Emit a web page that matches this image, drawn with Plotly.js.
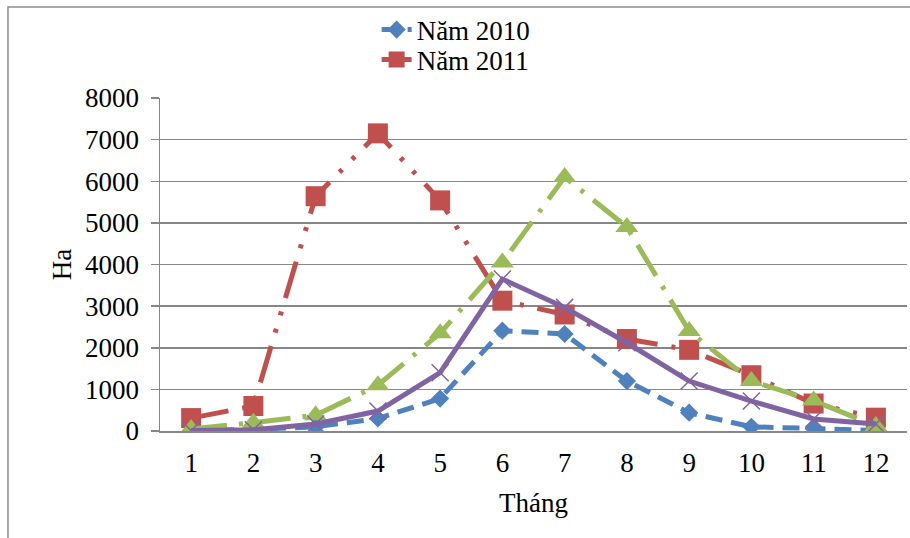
<!DOCTYPE html>
<html>
<head>
<meta charset="utf-8">
<script src="https://cdn.plot.ly/plotly-3.0.1.min.js"></script>
<style>html,body{margin:0;padding:0;background:#fff;}#chart{width:910px;height:538px;}</style>
</head>
<body>
<div id="chart"></div>
<script>
const months = ['1','2','3','4','5','6','7','8','9','10','11','12'];
const seriesNames = ['Năm 2010', 'Năm 2011', 'Năm 2012', 'Năm 2013'];
const values2010 = [10, 40, 100, 300, 780, 2410, 2330, 1200, 440, 100, 60, 10];
const values2011 = [310, 600, 5640, 7150, 5540, 3130, 2800, 2210, 1950, 1340, 660, 320];
const values2012 = [50, 200, 380, 1100, 2350, 4050, 6100, 4900, 2400, 1200, 730, 120];
const values2013 = [10, 30, 170, 480, 1400, 3650, 2970, 2120, 1200, 720, 290, 170];
const yTicks = [0, 1000, 2000, 3000, 4000, 5000, 6000, 7000, 8000];

const font = 'Liberation Serif, Times New Roman, serif';
const gray = '#878787';
const fs = 27;

const traces = [
  {x: months, y: values2010, name: seriesNames[0], type: 'scatter', mode: 'lines+markers', legend: 'legend',
   line: {color: '#4F81BD', width: 5, dash: '17px,9px'},
   marker: {symbol: 'diamond', size: 14, color: '#4F81BD'}},
  {x: months, y: values2011, name: seriesNames[1], type: 'scatter', mode: 'lines+markers', legend: 'legend2',
   line: {color: '#C0504D', width: 5, dash: '38px,14px,4px,14px,4px,14px'},
   marker: {symbol: 'square', size: 20, color: '#C0504D'}},
  {x: months, y: values2012, name: seriesNames[2], type: 'scatter', mode: 'lines+markers', showlegend: false,
   line: {color: '#9BBB59', width: 5, dash: '36px,12px,4px,12px'},
   marker: {symbol: 'triangle-up', size: 20, color: '#9BBB59'}},
  {x: months, y: values2013, name: seriesNames[3], type: 'scatter', mode: 'lines+markers', showlegend: false,
   line: {color: '#8064A2', width: 5},
   marker: {symbol: 'x-thin-open', size: 17, color: '#8064A2', line: {color: '#8064A2', width: 1.5}}}
];

const legendBase = {xanchor: 'left', yanchor: 'middle', bgcolor: 'rgba(0,0,0,0)',
                    font: {family: font, size: fs, color: '#000'}};

const layout = {
  width: 910, height: 538,
  margin: {l: 160, r: 3, t: 98, b: 107},
  paper_bgcolor: '#fff', plot_bgcolor: '#fff',
  font: {family: font, size: fs, color: '#000'},
  showlegend: true,
  legend: Object.assign({x: 0.29, y: 1.204}, legendBase),
  legend2: Object.assign({x: 0.29, y: 1.114}, legendBase),
  xaxis: {
    type: 'category', range: [-0.5, 11.5], showgrid: false, zeroline: false,
    showline: true, linecolor: gray, linewidth: 1.5, ticks: '',
    tickfont: {family: font, size: fs}, ticklabelstandoff: 7,
    title: {text: 'Tháng', font: {family: font, size: fs}, standoff: 16},
    automargin: false
  },
  yaxis: {
    range: [0, 8000], tickvals: yTicks, ticktext: yTicks.map(String),
    showgrid: true, gridcolor: gray, gridwidth: 1.5, zeroline: false,
    showline: true, linecolor: gray, linewidth: 1.5,
    ticks: 'outside', ticklen: 8, tickcolor: gray, tickwidth: 1.5,
    tickfont: {family: font, size: fs}, ticklabelstandoff: 6,
    title: {text: 'Ha', font: {family: font, size: fs}, standoff: 5},
    automargin: false
  },
  shapes: [{
    type: 'rect', xref: 'paper', yref: 'paper', layer: 'below',
    x0: -0.2035, x1: 1.01, y0: -0.33, y1: 1.273,
    line: {color: '#8c8c8c', width: 1.5}
  }]
};

Plotly.newPlot('chart', traces, layout, {displayModeBar: false, staticPlot: true});
</script>
</body>
</html>
